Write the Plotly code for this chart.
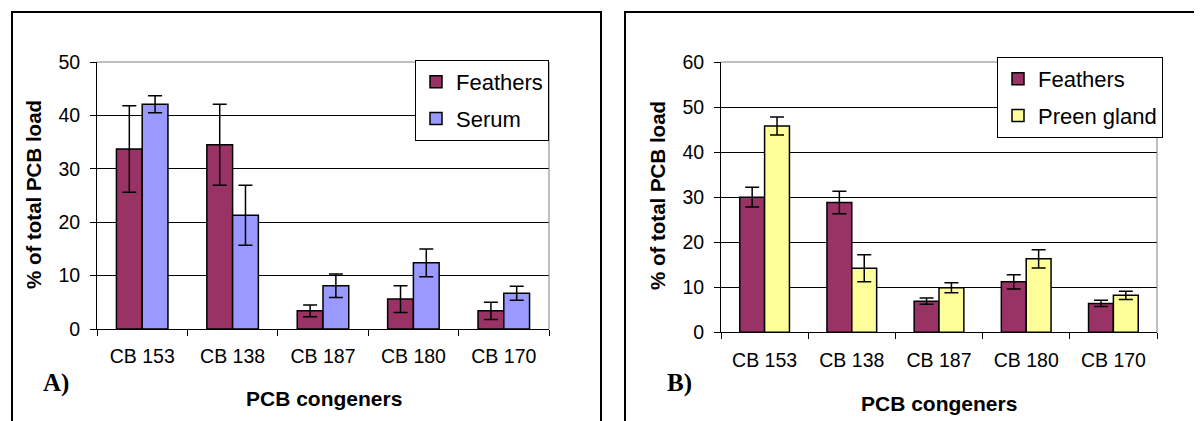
import plotly.graph_objects as go

categories = ["CB 153", "CB 138", "CB 187", "CB 180", "CB 170"]

# Panel A
feathers_a = [33.7, 34.5, 3.4, 5.6, 3.4]
feathers_a_err = [8.1, 7.6, 1.1, 2.5, 1.6]
serum = [42.1, 21.3, 8.1, 12.4, 6.7]
serum_err = [1.6, 5.6, 2.2, 2.6, 1.3]

# Panel B
feathers_b = [30.0, 28.8, 6.9, 11.2, 6.4]
feathers_b_err = [2.2, 2.5, 0.7, 1.6, 0.7]
preen = [45.8, 14.2, 9.9, 16.3, 8.2]
preen_err = [2.0, 3.0, 1.1, 2.0, 0.9]

W, H = 1202, 421
OFF = 8  # page body offset
C_FEATH = "#993366"
C_SERUM = "#9999FF"
C_PREEN = "#FFFF99"
FONT = "Arial, Liberation Sans, sans-serif"
SERIF = "Times New Roman, Liberation Serif, serif"


def px(x):
    return (x - OFF) / W


def py(y):
    return 1 - (y - OFF) / H


def bar(name, y, err, color, xa, ya, legend, group):
    return go.Bar(
        name=name, x=categories, y=y,
        marker=dict(color=color, line=dict(color="black", width=1.5)),
        error_y=dict(type="data", array=err, visible=True, color="black",
                     thickness=1.5, width=7),
        xaxis=xa, yaxis=ya, legend=legend, legendgroup=group,
    )


fig = go.Figure()
fig.add_trace(bar("Feathers", feathers_a, feathers_a_err, C_FEATH, "x", "y", "legend", "fa"))
fig.add_trace(bar("Serum", serum, serum_err, C_SERUM, "x", "y", "legend", "sa"))
fig.add_trace(bar("Feathers", feathers_b, feathers_b_err, C_FEATH, "x2", "y2", "legend2", "fb"))
fig.add_trace(bar("Preen gland", preen, preen_err, C_PREEN, "x2", "y2", "legend2", "pb"))

tickfont = dict(family=FONT, size=19.5, color="black")

xcommon = dict(type="category", tickson="boundaries", ticks="outside", ticklen=6,
               tickcolor="black", tickwidth=1, showgrid=False, showline=True,
               linecolor="black", linewidth=1, tickfont=tickfont,
               ticklabelstandoff=10, fixedrange=True)
ycommon = dict(ticks="outside", ticklen=6, tickcolor="black", tickwidth=1,
               showgrid=True, gridcolor="black", gridwidth=1, zeroline=False,
               showline=True, linecolor="black", linewidth=1, tickfont=tickfont,
               dtick=10, ticklabelstandoff=6, fixedrange=True)

legend_common = dict(font=dict(family=FONT, size=22, color="black"),
                     bordercolor="black", borderwidth=1, bgcolor="white",
                     xanchor="right", yanchor="top", tracegroupgap=5,
                     orientation="v")

fig.update_layout(
    width=W, height=H,
    margin=dict(l=0, r=0, t=0, b=0, autoexpand=False),
    paper_bgcolor="white", plot_bgcolor="white",
    barmode="group", bargap=0.43, bargroupgap=0,
    xaxis=dict(domain=[px(97), px(549)], anchor="y", **xcommon),
    yaxis=dict(domain=[py(329), py(62)], anchor="x", range=[0, 50], **ycommon),
    xaxis2=dict(domain=[px(721), px(1157)], anchor="y2", **xcommon),
    yaxis2=dict(domain=[py(332.3), py(62)], anchor="x2", range=[0, 60], **ycommon),
    legend=dict(x=px(549), y=py(60), **legend_common),
    legend2=dict(x=px(1163), y=py(57), **legend_common),
    showlegend=True,
)

titlefont = dict(family=FONT, size=21, color="black")
annotations = [
    dict(text="<b>% of total PCB load</b>", x=px(34), y=py(195), textangle=-90,
         font=dict(family=FONT, size=20.5, color="black")),
    dict(text="<b>% of total PCB load</b>", x=px(658), y=py(196), textangle=-90,
         font=dict(family=FONT, size=20.5, color="black")),
    dict(text="<b>PCB congeners</b>", x=px(323.5), y=py(398), font=titlefont),
    dict(text="<b>PCB congeners</b>", x=px(938.5), y=py(403), font=titlefont),
    dict(text="<b>A)</b>", x=px(56), y=py(383), font=dict(family=SERIF, size=25, color="black")),
    dict(text="<b>B)</b>", x=px(679.5), y=py(383), font=dict(family=SERIF, size=25, color="black")),
]
for a in annotations:
    a.update(xref="paper", yref="paper", showarrow=False, xanchor="center", yanchor="middle")
fig.update_layout(annotations=annotations)

shapes = [
    # panel frames
    dict(type="path", path=f"M {px(12)},{py(430)} L {px(12)},{py(12)} L {px(601)},{py(12)} L {px(601)},{py(430)}",
         line=dict(color="black", width=2)),
    dict(type="path", path=f"M {px(625)},{py(430)} L {px(625)},{py(12)} L {px(1215)},{py(12)}",
         line=dict(color="black", width=2)),
    # gray plot-area top and right borders
    dict(type="line", x0=px(97), x1=px(549), y0=py(62), y1=py(62), line=dict(color="#808080", width=1)),
    dict(type="line", x0=px(549), x1=px(549), y0=py(62), y1=py(329), line=dict(color="#808080", width=1)),
    dict(type="line", x0=px(721), x1=px(1157), y0=py(62), y1=py(62), line=dict(color="#808080", width=1)),
    dict(type="line", x0=px(1157), x1=px(1157), y0=py(62), y1=py(332.3), line=dict(color="#808080", width=1)),
]
for s in shapes:
    s.update(xref="paper", yref="paper", layer="above")
fig.update_layout(shapes=shapes)

fig.write_html("out.html")
